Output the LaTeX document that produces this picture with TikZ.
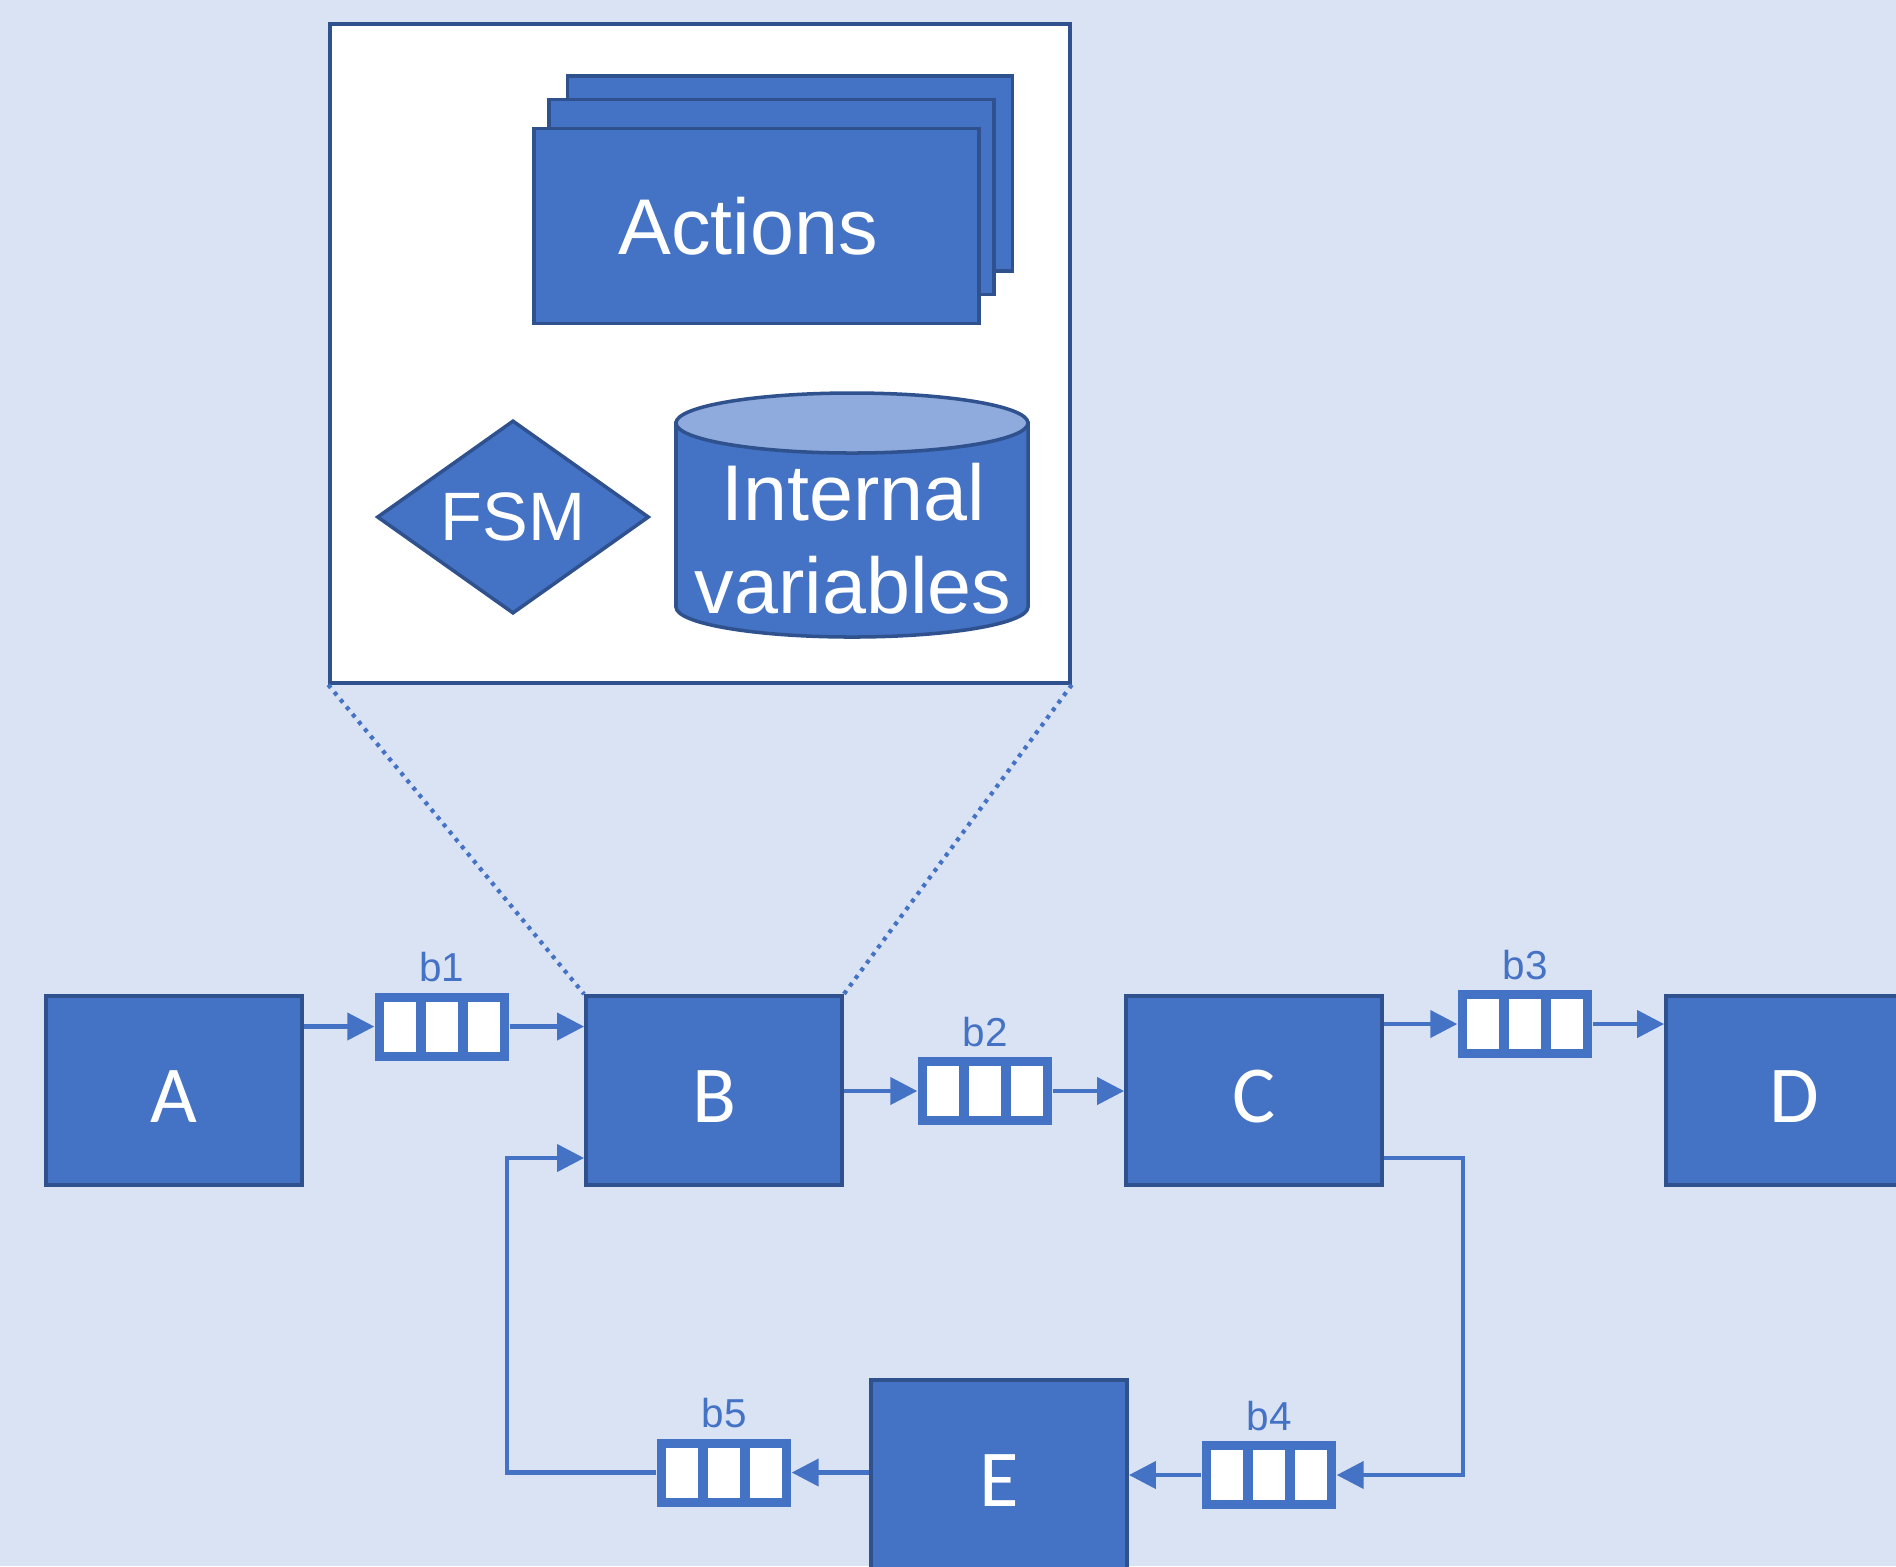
\documentclass[tikz,border=0pt]{standalone}
\usepackage{fontspec}
\setmainfont{Liberation Sans}
\newfontfamily\boxfont{Carlito}
\usetikzlibrary{arrows.meta,shapes.geometric,positioning,calc}
\definecolor{bgblue}{HTML}{DAE3F3}
\definecolor{boxblue}{HTML}{4472C4}
\definecolor{edgeblue}{HTML}{2F528F}
\definecolor{topblue}{HTML}{8FAADC}

\begin{document}
\begin{tikzpicture}[node distance=5.4cm,on grid,
  proc/.style={rectangle,draw=edgeblue,fill=boxblue,line width=1.1pt,minimum width=2.56cm,minimum height=1.89cm,text height=0.64cm,text depth=0cm,text=white,font=\boxfont\fontsize{23}{27}\selectfont},
  buffer/.style={rectangle,fill=boxblue,inner sep=0pt,minimum width=1.34cm,minimum height=0.68cm,
    path picture={\foreach \i in {0,1,2}
      \fill[white] ($(path picture bounding box.south west)+(0.09+\i*0.42,0.09)$) rectangle ++(0.32,0.5);}},
  lbl/.style={text=boxblue,font=\fontsize{11.5}{13}\selectfont,inner sep=2.5pt},
  flow/.style={draw=boxblue,line width=1.2pt,-{Triangle[length=0.27cm,width=0.27cm]}},
  actbox/.style={rectangle,draw=edgeblue,fill=boxblue,line width=1pt,minimum width=4.45cm,minimum height=1.95cm,text=white,font=\fontsize{22.5}{27}\selectfont},
  zoomline/.style={draw=boxblue,line width=1.2pt,dash pattern=on 0.04cm off 0.055cm}]
\useasboundingbox (0,0) rectangle (18.96,-15.66);
\clip (0,0) rectangle (18.96,-15.66);
\fill[bgblue] (0,0) rectangle (18.96,-15.66);

% actors
\node[proc] (A) at (1.74,-10.905) {A};
\node[proc] (B) [right=of A] {B};
\node[proc] (C) [right=of B] {C};
\node[proc] (D) [right=of C] {D};
\node[proc] (E) at (9.99,-14.745) {E};

% buffers
\node[buffer,label={[lbl]above:b1}] (b1) at (4.42,-10.265) {};
\node[buffer,label={[lbl]above:b2}] (b2) at (9.85,-10.91) {};
\node[buffer,label={[lbl]above:b3}] (b3) at (15.25,-10.24) {};
\node[buffer,label={[lbl]above:b4}] (b4) at (12.69,-14.75) {};
\node[buffer,label={[lbl]above:b5}] (b5) at (7.24,-14.725) {};

\coordinate (c4) at (14.63,-11.58);
\coordinate (c5) at (5.07,-11.58);
\draw[flow] (A.east |- b1.west) -- (b1.west);
\draw[flow] (b1.east) -- (b1.east -| B.west);
\draw[flow] (B.east |- b2.west) -- (b2.west);
\draw[flow] (b2.east) -- (b2.east -| C.west);
\draw[flow] (C.east |- b3.west) -- (b3.west);
\draw[flow] (b3.east) -- (b3.east -| D.west);
\draw[flow] (C.east |- c4) -- (c4) |- (b4.east);
\draw[flow] (b4.west) -- (b4.west -| E.east);
\draw[flow] (E.west |- b5.east) -- (b5.east);
\draw[flow] (b5.west) -| (c5) -- (c5 -| B.west);

% inside of B
\node[draw=edgeblue,fill=white,line width=1pt,minimum width=7.4cm,minimum height=6.59cm] (zoom) at (7.00,-3.535) {};
\draw[zoomline] (zoom.south west) -- (B.north west);
\draw[zoomline] (zoom.south east) -- (B.north east);

\node[actbox] (act3) at (7.90,-1.735) {};
\node[actbox] (act2) at (7.715,-1.97) {};
\node[actbox,text width=4.2cm,align=center] (act) at (7.565,-2.26) {\hspace*{-0.17cm}Actions};

\node[diamond,draw=edgeblue,fill=boxblue,line width=1pt,minimum width=2.72cm,minimum height=1.9cm,inner sep=0pt,text=white,font=\fontsize{19.5}{24}\selectfont] (fsm) at (5.13,-5.17) {FSM};

\filldraw[draw=edgeblue,fill=boxblue,line width=1pt] (6.76,-4.23) -- (6.76,-6.07) arc[start angle=180,end angle=360,x radius=1.76,y radius=0.30] -- (10.28,-4.23) -- cycle;
\filldraw[draw=edgeblue,fill=topblue,line width=1pt] (8.52,-4.23) ellipse [x radius=1.76,y radius=0.30];
\node[text=white,align=center,font=\fontsize{22.5}{26.5}\selectfont] (vars) at (8.53,-5.385) {Internal\\variables};
\end{tikzpicture}
\end{document}
